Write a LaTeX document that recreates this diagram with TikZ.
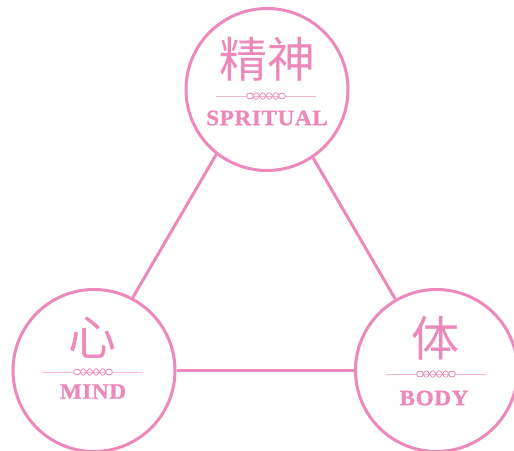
\documentclass[tikz,border=0pt]{standalone}
\usepackage{fontspec}
\newfontfamily\cjk{Noto Sans CJK SC}
\newfontfamily\deco[FakeStretch=1.05,LetterSpace=3,FakeBold=1.2]{Liberation Serif}
\definecolor{pk}{RGB}{236,136,186}
\definecolor{pklight}{RGB}{244,180,212}
\begin{document}
\begin{tikzpicture}[x=1pt,y=-1pt,
  circ/.style={circle,draw=pk,line width=3pt,fill=white,minimum size=162pt,inner sep=0pt},
  link/.style={draw=pk,line width=3pt},
  hanzi/.style={text=pk,font=\cjk\fontsize{48}{48}\selectfont,inner sep=0pt},
  latin/.style={text=pk,font=\deco\bfseries\fontsize{22}{22}\selectfont,inner sep=0pt},
  orn/.pic={
    \draw[pklight,line width=0.6pt] (-50,0) -- (50,0);
    \draw[pk,line width=0.8pt] plot[domain=-13:13,samples=60,smooth] (\x,{3.2*sin(\x*180/6.5)});
    \draw[pk,line width=0.8pt] plot[domain=-13:13,samples=60,smooth] (\x,{-3.2*sin(\x*180/6.5)});
    \draw[pk,line width=0.8pt,fill=white] (-16,0) ellipse (3.4pt and 3pt);
    \draw[pk,line width=0.8pt,fill=white] (16,0) ellipse (3.4pt and 3pt);
  }]
\useasboundingbox (0,0) rectangle (514,450);
\fill[white] (0,0) rectangle (514,450);
\node[circ] (top) at (267,89.5) {};
\node[circ] (left) at (94,370.5) {};
\node[circ] (right) at (436.5,370.5) {};
\draw[link] (top.232) -- (left.62);
\draw[link] (top.304) -- (right.120);
\draw[link] (left) -- (right);
% top
\node[hanzi] (t1) at (267,59) {精神};
\pic at (266,96) {orn};
\node[latin] (t2) at (267,118) {SPRITUAL};
% left
\node[hanzi] (l1) at (92,338) {心};
\pic at (93,372) {orn};
\node[latin] (l2) at (93,391.5) {MIND};
% right
\node[hanzi] (r1) at (435,338) {体};
\pic at (436,374) {orn};
\node[latin] (r2) at (434,398) {BODY};
\end{tikzpicture}
\end{document}
